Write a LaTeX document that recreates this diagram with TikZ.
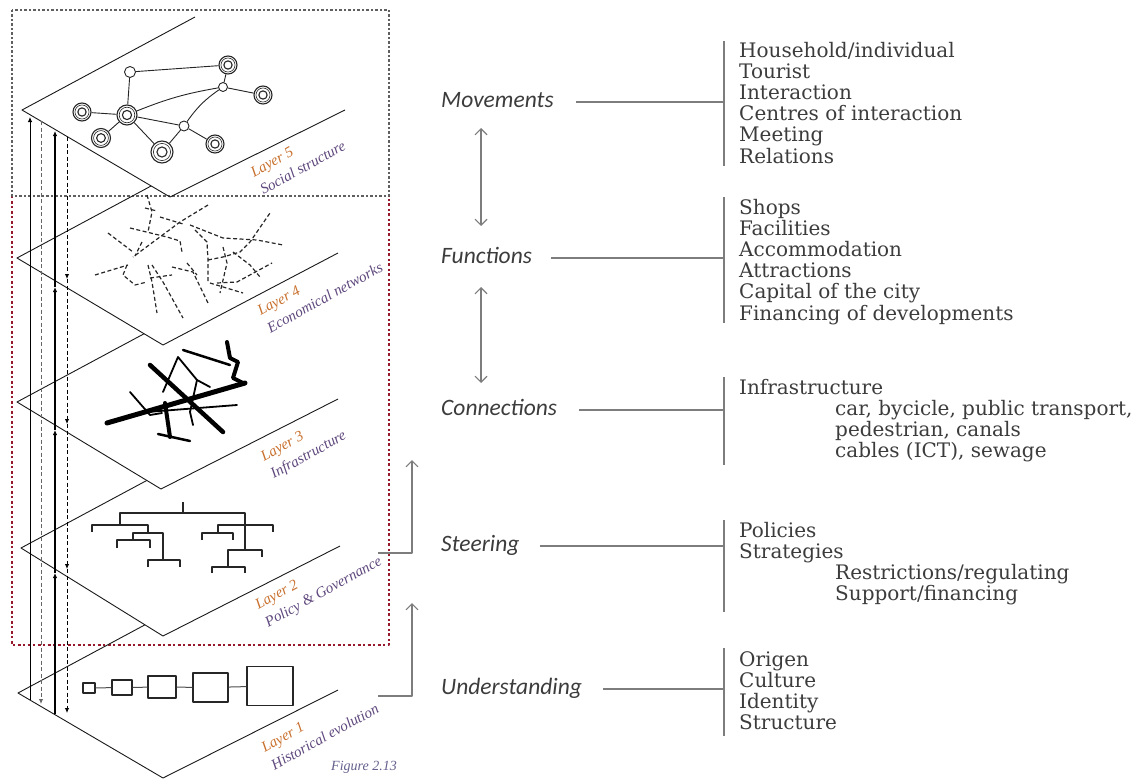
\documentclass[tikz,border=0pt]{standalone}
\usepackage{fontspec}
\setmainfont{DejaVu Serif}
\newfontfamily\listfont{DejaVu Serif}
\newfontfamily\headfont{Carlito}
\newfontfamily\layerfont{Liberation Serif}
\usetikzlibrary{arrows.meta}
\definecolor{ink}{RGB}{60,60,60}
\definecolor{rule}{RGB}{125,125,125}
\definecolor{frameRed}{RGB}{150,25,45}
\definecolor{frameGray}{RGB}{95,95,95}
\definecolor{layerA}{RGB}{200,112,45}
\definecolor{layerB}{RGB}{95,72,125}
\definecolor{figInk}{RGB}{100,95,140}
\tikzset{
  plane/.style={draw=black!90, line width=0.9pt},
  framegray/.style={draw=frameGray, line width=1.6pt, dash pattern=on 1.6pt off 2.2pt on 3pt off 2.2pt},
  framered/.style={draw=frameRed, line width=2.2pt, dash pattern=on 2.2pt off 2.4pt on 3pt off 2.4pt},
  link/.style={draw=rule, line width=1.1pt},
  heading/.style={font=\headfont\itshape\fontsize{23.5}{26}\selectfont, text=ink, inner sep=0pt, anchor=base west},
  item/.style={font=\listfont\fontsize{20}{21}\selectfont, text=ink, inner sep=0pt, anchor=base west},
  flow/.style={draw=rule, line width=1.1pt, -{Straight Barb[length=6pt,width=12pt]}},
  twoway/.style={draw=rule, line width=1.1pt, {Straight Barb[length=6pt,width=12pt]}-{Straight Barb[length=6pt,width=12pt]}},
  hub/.style={circle, draw=black!85, fill=white, line width=1.1pt, inner sep=0pt, minimum size=#1,
    path picture={\draw[line width=0.6pt] (path picture bounding box.center) circle (0.39*#1);
                  \draw[line width=1.1pt] (path picture bounding box.center) circle (0.23*#1);}},
  dot/.style={circle, draw=black!85, fill=white, line width=0.9pt, inner sep=0pt, minimum size=#1},
  web/.style={draw=black!85, line width=0.9pt},
  trade/.style={draw=black!85, line width=1.2pt, dash pattern=on 4pt off 2.5pt},
  road/.style={draw=black, line width=#1, line cap=round},
  branch/.style={draw=black!85, line width=1.6pt},
  stage/.style={draw=black!85, line width=1.3pt, inner sep=0pt},
  layerlab/.style={rotate=29, align=left, inner sep=0pt, font=\layerfont\itshape\fontsize{15}{20}\selectfont},
  uptip/.style={-{Latex[length=5pt,width=4.5pt]}},
}
\begin{document}
\begin{tikzpicture}[x=1pt, y=-1pt, line join=round]
\useasboundingbox (0,0) rectangle (1133,779);

% ---------- frames round the layer stack ----------
\draw[framered] (12,196) -- (12,645) -- (389,645) -- (389,196);
\draw[framegray] (12,10) rectangle (389,196);

% ---------- the five planes ----------
\coordinate (L5) at (22,110);  \coordinate (B5) at (170,197); \coordinate (R5) at (345,110); \coordinate (T5) at (195,17);
\coordinate (L4) at (17,258);  \coordinate (B4) at (163,345); \coordinate (R4) at (338,253); \coordinate (P4) at (217,150.6);
\coordinate (L3) at (17,402);  \coordinate (B3) at (161,489); \coordinate (R3) at (338,399); \coordinate (P3) at (217,294.6);
\coordinate (L2) at (21,548);  \coordinate (B2) at (163,636); \coordinate (R2) at (340,546); \coordinate (P2) at (221,440.6);
\coordinate (L1) at (18,693);  \coordinate (B1) at (163,778); \coordinate (R1) at (338,690); \coordinate (P1) at (218,585.6);

\draw[plane] (T5) -- (L5) -- (B5) -- (R5);
\draw[plane] (intersection of L4--P4 and L5--B5) -- (L4) -- (B4) -- (R4);
\draw[plane] (intersection of L3--P3 and L4--B4) -- (L3) -- (B3) -- (R3);
\draw[plane] (intersection of L2--P2 and L3--B3) -- (L2) -- (B2) -- (R2);
\draw[plane] (intersection of L1--P1 and L2--B2) -- (L1) -- (B1) -- (R1);

% ---------- vertical links through the stack ----------
\coordinate (va0) at (30,700); \coordinate (va1) at (30,117);
\draw[line width=0.8pt, uptip] (va0) -- (va1);
\coordinate (vb0) at (41,121); \coordinate (vb1) at (41,704);
\draw[draw=black!60, line width=0.9pt, dash pattern=on 4pt off 2.5pt, uptip] (vb0) -- (vb1);
\coordinate (vc0) at (55,714); \coordinate (vc1) at (55,573); \coordinate (vc2) at (55,430);
\coordinate (vc3) at (55,287); \coordinate (vc4) at (55,131);
\foreach \a/\b in {vc0/vc1, vc1/vc2, vc2/vc3, vc3/vc4}
  \draw[line width=1.5pt, uptip] (\a) -- (\b);
\coordinate (vd0) at (67,137); \coordinate (vd1) at (67,279); \coordinate (vd2) at (67,424);
\coordinate (vd3) at (67,569); \coordinate (vd4) at (67,713);
\foreach \a/\b in {vd0/vd1, vd1/vd2, vd2/vd3, vd3/vd4}
  \draw[line width=0.9pt, dash pattern=on 4pt off 2.5pt, uptip] (\a) -- (\b);

% ---------- layer 5: social structure ----------
\node[dot=11pt] (sa) at (130,72) {};
\node[hub=18pt] (sb) at (228,65) {};
\node[dot=9pt]  (sc) at (223,87) {};
\node[hub=18pt] (sd) at (263,95) {};
\node[hub=20pt] (se) at (127,115) {};
\node[hub=18pt] (sf) at (82,112) {};
\node[hub=19pt] (sg) at (101,138) {};
\node[hub=22pt] (sh) at (162,152) {};
\node[dot=10pt] (si) at (184,126) {};
\node[hub=18pt] (sj) at (215,144) {};
\draw[web] (sa) -- (sb);
\draw[web] (sa) -- (se);
\draw[web] (sb) -- (sc);
\draw[web] (sc) -- (sd);
\draw[web] (se) to[bend left=6] (sc);
\draw[web] (se) -- (sf);
\draw[web] (se) -- (sg);
\draw[web] (se) -- (sh);
\draw[web] (se) -- (si);
\draw[web] (si) to[bend left=10] (sc);
\draw[web] (si) -- (sj);
\draw[web] (sh) -- (si);

% ---------- layer 4: economical networks ----------
\draw[trade] (147,195) -- (152,212) -- (148,232);
\draw[trade] (145,208) -- (157,211);
\draw[trade] (160,217) -- (183,224);
\draw[trade] (208,205) -- (180,222) -- (133,257);
\draw[trade] (130,228) -- (167,237) -- (180,241) -- (182,252);
\draw[trade] (108,233) -- (133,252);
\draw[trade] (142,242) -- (135,256);
\draw[trade] (95,275) -- (128,265);
\draw[trade] (127,265) -- (123,275) -- (135,285) -- (147,282);
\draw[trade] (148,265) -- (152,282) -- (157,313);
\draw[trade] (152,265) -- (163,282) -- (183,318);
\draw[trade] (150,278) -- (172,275);
\draw[trade] (172,267) -- (193,272) -- (208,303);
\draw[trade] (187,263) -- (197,275);
\draw[trade] (195,230) -- (207,242) -- (208,260) -- (208,283);
\draw[trade] (208,260) -- (223,257) -- (240,252) -- (250,242) -- (270,213);
\draw[trade] (190,225) -- (223,238) -- (257,240) -- (283,245);
\draw[trade] (223,247) -- (227,263) -- (220,293);
\draw[trade] (233,252) -- (250,265) -- (260,277);
\draw[trade] (210,283) -- (243,293);
\draw[trade] (217,283) -- (237,282) -- (272,263);

% ---------- layer 3: infrastructure ----------
\draw[road=5pt] (107,423) -- (245,383);
\draw[road=4.5pt] (150,365) -- (223,432);
\draw[road=4pt] (165,403) -- (170,437);
\draw[road=2.5pt] (158,434) -- (190,441);
\draw[road=1.8pt] (130,392) -- (150,415) -- (162,413);
\draw[road=1.8pt] (163,392) -- (178,357) -- (197,380) -- (210,387);
\draw[road=1.8pt] (197,380) -- (190,412) -- (193,425);
\draw[road=2.5pt] (183,350) -- (230,365);
\draw[road=4pt] (227,342) -- (230,358) -- (238,362) -- (233,378) -- (243,383);
\draw[road=1.8pt] (147,412) -- (237,405);

% ---------- layer 2: policy tree ----------
\draw[branch] (183,502) -- (183,513);
\draw[branch] (120,525) -- (120,513) -- (245,513) -- (245,550);
\draw[branch] (92,532) -- (92,525) -- (148,525) -- (148,533);
\draw[branch] (133,540) -- (133,533) -- (163,533) -- (163,560);
\draw[branch] (117,548) -- (117,540) -- (150,540) -- (150,548);
\draw[branch] (148,567) -- (148,560) -- (180,560) -- (180,567);
\draw[branch] (218,533) -- (218,525) -- (273,525) -- (273,532);
\draw[branch] (202,540) -- (202,533) -- (233,533) -- (233,540);
\draw[branch] (228,567) -- (228,550) -- (262,550) -- (262,557);
\draw[branch] (212,573) -- (212,567) -- (245,567) -- (245,573);

% ---------- layer 1: historical growth ----------
\node[stage, draw, minimum width=12pt, minimum height=10pt] (h1) at (89,688) {};
\node[stage, draw, minimum width=20pt, minimum height=15pt] (h2) at (122,687.5) {};
\node[stage, draw, minimum width=28pt, minimum height=22pt] (h3) at (162,687) {};
\node[stage, draw, minimum width=35pt, minimum height=29pt] (h4) at (210.5,687.5) {};
\node[stage, draw, minimum width=46pt, minimum height=39pt] (h5) at (270,686) {};
\draw[draw=black!70, line width=1pt] (h1) -- (h2);
\draw[draw=black!70, line width=1pt] (h2) -- (h3);
\draw[draw=black!70, line width=1pt] (h3) -- (h4);
\draw[draw=black!70, line width=1pt] (h4) -- (h5);

% ---------- layer captions ----------
\node[layerlab] (cap5) at (298,159) {\textcolor{layerA}{Layer 5}\\\textcolor{layerB}{Social structure}};
\node[layerlab] (cap4) at (320,289) {\textcolor{layerA}{Layer 4}\\\textcolor{layerB}{Economical networks}};
\node[layerlab] (cap3) at (304,447) {\textcolor{layerA}{Layer 3}\\\textcolor{layerB}{Infrastructure}};
\node[layerlab] (cap2) at (319,584) {\textcolor{layerA}{Layer 2}\\\textcolor{layerB}{Policy \& Governance}};
\node[layerlab] (cap1) at (320,728) {\textcolor{layerA}{Layer 1}\\\textcolor{layerB}{Historical evolution}};
\node[font=\layerfont\itshape\fontsize{14}{16}\selectfont, text=figInk, inner sep=0pt] (fig) at (364,767) {Figure 2.13};

% ---------- links from the stack to the right-hand column ----------
\coordinate (st0) at (378,553); \coordinate (st1) at (412,460);
\draw[flow] (st0) -| (st1);
\coordinate (un0) at (378,696); \coordinate (un1) at (412,603);
\draw[flow] (un0) -| (un1);

% ---------- headings ----------
\node[heading] (mov) at (441,107.5) {Movements};
\node[heading] (fun) at (441,263.5) {Functions};
\node[heading] (con) at (441,415.5) {Connections};
\node[heading] (ste) at (441,551.5) {Steering};
\node[heading] (und) at (441,694.5) {Understanding};

\coordinate (mf0) at (481,128); \coordinate (mf1) at (481,226);
\draw[twoway] (mf0) -- (mf1);
\coordinate (fc0) at (481,287); \coordinate (fc1) at (481,383);
\draw[twoway] (fc0) -- (fc1);

% brackets
\coordinate (k1a) at (724,41);  \coordinate (k1b) at (724,166);
\coordinate (k2a) at (724,197); \coordinate (k2b) at (724,323);
\coordinate (k3a) at (724,377); \coordinate (k3b) at (724,465);
\coordinate (k4a) at (724,520); \coordinate (k4b) at (724,612);
\coordinate (k5a) at (724,648); \coordinate (k5b) at (724,736);
\foreach \a/\b in {k1a/k1b, k2a/k2b, k3a/k3b, k4a/k4b, k5a/k5b}
  \draw[link] (\a) -- (\b);

\coordinate (j1) at (724,102);
\coordinate (j2) at (724,258);
\coordinate (j3) at (724,410);
\coordinate (j4) at (724,546);
\coordinate (j5) at (724,689);
\draw[link] ([xshift=22pt, yshift=5.5pt]mov.base east) -- (j1);
\draw[link] ([xshift=19pt, yshift=5.5pt]fun.base east) -- (j2);
\draw[link] ([xshift=22pt, yshift=5.5pt]con.base east) -- (j3);
\draw[link] ([xshift=20pt, yshift=5.5pt]ste.base east) -- (j4);
\draw[link] ([xshift=21pt, yshift=5.5pt]und.base east) -- (j5);

% ---------- lists ----------
\foreach \t [count=\i from 0] in {Household/individual,Tourist,Interaction,Centres of interaction,Meeting,Relations}
  \node[item] (ma\i) at (739,{57+21.2*\i}) {\t};
\foreach \t [count=\i from 0] in {Shops,Facilities,Accommodation,Attractions,Capital of the city,Financing of developments}
  \node[item] (fa\i) at (739,{214+21.2*\i}) {\t};
\node[item] (ca0) at (739,394) {Infrastructure};
\node[item] (ca1) at (835,415) {car, bycicle, public transport,};
\node[item] (ca2) at (835,436) {pedestrian, canals};
\node[item] (ca3) at (835,457) {cables (ICT), sewage};
\node[item] (sa0) at (739,537) {Policies};
\node[item] (sa1) at (739,558) {Strategies};
\node[item] (sa2) at (835,579.5) {Restrictions/regulating};
\node[item] (sa3) at (835,600.7) {Support/financing};
\foreach \t [count=\i from 0] in {Origen,Culture,Identity,Structure}
  \node[item] (ua\i) at (739,{666+21*\i}) {\t};
\end{tikzpicture}
\end{document}
